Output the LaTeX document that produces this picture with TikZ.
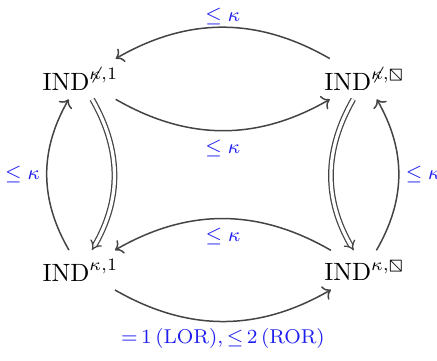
\documentclass[tikz,border=0pt]{standalone}
\usepackage{amsmath, amssymb}
\usepackage{stmaryrd}
\usetikzlibrary{arrows.meta}
\definecolor{arrowgray}{RGB}{68, 68, 68}
\definecolor{boundblue}{RGB}{30, 30, 240}

\begin{document}
\begin{tikzpicture}[
  rel/.style={draw=arrowgray, line width=0.6pt, -{Computer Modern Rightarrow}},
  equiv/.style={draw=arrowgray, line width=0.5pt, double, double distance=1.3pt, -{Implies}},
  bound/.style={font=\footnotesize, text=boundblue, inner sep=2.5pt}
]
  \useasboundingbox (-3.131, -2.608) rectangle (3.012, 2.453);

  \node (nk1) at (-2, 1.343) {$\mathrm{IND}^{\not\kappa,1}$};
  \node (nkbox) at (2, 1.343) {$\mathrm{IND}^{\not\kappa,\boxbslash}$};
  \node (k1) at (-2, -1.343) {$\mathrm{IND}^{\kappa,1}$};
  \node (kbox) at (2, -1.343) {$\mathrm{IND}^{\kappa,\boxbslash}$};

  % top row
  \draw[rel] (nkbox) to[bend right=30] node[above, bound, yshift=-2pt] {$\leq\kappa$} (nk1);
  \draw[rel] (nk1) to[bend right=30] node[below, bound, yshift=-1pt] {$\leq\kappa$} (nkbox);

  % bottom row
  \draw[rel] (kbox) to[bend right=30] node[below, bound, yshift=-1pt] {$\leq\kappa$} (k1);
  \draw[rel] (k1) to[bend right=30] node[below, bound] {${=}\,1\,(\mathrm{LOR}), {\leq}\,2\,(\mathrm{ROR})$} (kbox);

  % columns
  \draw[equiv] (nk1) to[bend left=30] (k1);
  \draw[rel] (k1) to[bend left=30] node[left, bound] {$\leq\kappa$} (nk1);
  \draw[equiv] (nkbox) to[bend right=30] (kbox);
  \draw[rel] (kbox) to[bend right=30] node[right, bound] {$\leq\kappa$} (nkbox);
\end{tikzpicture}
\end{document}
